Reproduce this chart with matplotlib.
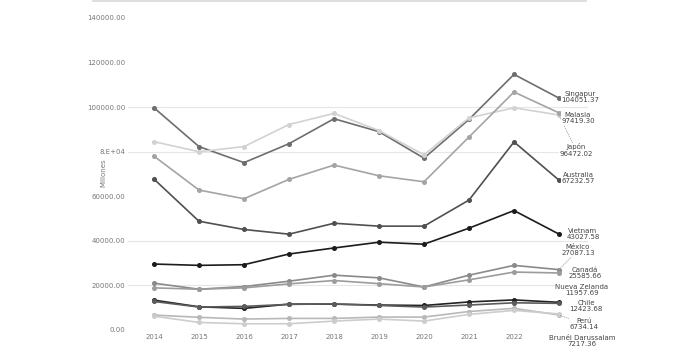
import matplotlib
matplotlib.use("Agg")
import matplotlib.pyplot as plt
from matplotlib.lines import Line2D

years = [2014, 2015, 2016, 2017, 2018, 2019, 2020, 2021, 2022, 2023]
xtick_labels = ["2014", "2015", "2016", "2017", "2018", "2019", "2020", "2021", "2022"]

singapur = [99700, 82300, 75100, 83600, 94800, 89000, 77100, 94500, 114700, 104051.37]
japon = [84500, 80000, 82300, 92200, 97200, 89500, 78600, 95200, 99700, 96472.02]
malasia = [78000, 62800, 58900, 67600, 74000, 69200, 66500, 86600, 106800, 97419.30]
australia = [67700, 48800, 45100, 43000, 47900, 46600, 46600, 58300, 84400, 67232.57]
vietnam = [29600, 29000, 29300, 34100, 36800, 39400, 38500, 45700, 53600, 43027.58]
mexico = [21000, 18300, 19500, 21900, 24600, 23400, 19300, 24600, 29000, 27087.13]
canada = [18900, 18300, 18900, 20700, 22200, 20800, 19300, 22500, 26000, 25585.66]
chile = [13400, 10400, 9700, 11600, 11600, 11200, 11000, 12600, 13500, 12423.68]
nueva_zelanda = [12800, 10300, 10600, 11500, 11700, 11000, 10300, 11200, 12200, 11957.69]
peru = [6700, 5700, 4900, 5200, 5200, 5800, 5800, 8300, 9700, 6734.14]
brunei = [6200, 3400, 2800, 2800, 4000, 4900, 4000, 7000, 8800, 7217.36]

yticks = [0, 20000, 40000, 60000, 80000, 100000, 120000, 140000]
ytick_labels = ["0.00", "20000.00", "40000.00", "60000.00", "8.E+04", "100000.00", "120000.00", "140000.00"]
grid_values = [0, 20000, 40000, 80000, 100000]

series = [
    ("Singapur", singapur, "#6e6e6e", (580, 97), False),
    ("Japón", japon, "#d2d2d2", (576, 150), True),
    ("Malasia", malasia, "#a4a4a4", (578, 118), False),
    ("Australia", australia, "#505050", (578, 178), False),
    ("Vietnam", vietnam, "#1c1c1c", (583, 234), False),
    ("México", mexico, "#8a8a8a", (578, 250), True),
    ("Canadá", canada, "#9c9c9c", (585, 273), False),
    ("Chile", chile, "#222222", (586, 306), False),
    ("Nueva Zelanda", nueva_zelanda, "#5c5c5c", (582, 290), False),
    ("Perú", peru, "#b8b8b8", (584, 324), True),
    ("Brunéi Darussalam", brunei, "#cdcdcd", (582, 341), False),
]

W, H = 679, 354
fig = plt.figure(figsize=(W / 100, H / 100), dpi=100)
ax_left, ax_right, ax_top, ax_bottom = 128, 588, 18, 330
ax = fig.add_axes([ax_left / W, 1 - ax_bottom / H, (ax_right - ax_left) / W, (ax_bottom - ax_top) / H])

x0 = 2014 - 26 / 45
x1 = 2014 + (ax_right - 154) / 45
ax.set_xlim(x0, x1)
ax.set_ylim(0, 140000)

for g in grid_values:
    ax.axhline(g, color="#e6e6e6", lw=0.8, zorder=0)

for name, vals, col, pos, leader in series:
    ax.plot(years, vals, color=col, lw=1.2, marker="o", markersize=2.6, zorder=3)

ax.set_xticks(years[:-1])
ax.set_xticklabels(xtick_labels)
ax.set_yticks(yticks)
ax.set_yticklabels(ytick_labels)
ax.tick_params(axis="both", length=0, labelsize=5, colors="#777777")
ax.tick_params(axis="y", pad=2)
ax.tick_params(axis="x", pad=3)
for s in ax.spines.values():
    s.set_visible(False)

fig.text(103 / W, 1 - 173 / H, "Millones", rotation=90, ha="center", va="center",
         fontsize=5, color="#777777")

for name, vals, col, pos, leader in series:
    label = f"{name}\n{vals[-1]:.2f}"
    fx, fy = pos[0] / W, 1 - pos[1] / H
    if leader:
        ax.annotate(label, xy=(years[-1], vals[-1]), xycoords="data",
                    xytext=(fx, fy), textcoords="figure fraction",
                    ha="center", va="center", fontsize=5, color="#444444",
                    linespacing=1.1, annotation_clip=False,
                    bbox=dict(boxstyle="square,pad=0.05", fc="white", ec="none"),
                    arrowprops=dict(arrowstyle="-", linestyle=":", color="#aaaaaa", lw=0.6,
                                    shrinkA=0, shrinkB=0), zorder=5)
    else:
        fig.text(fx, fy, label, ha="center", va="center", fontsize=5, color="#444444",
                 linespacing=1.1, zorder=5,
                 bbox=dict(boxstyle="square,pad=0.05", fc="white", ec="none"))

fig.add_artist(Line2D([93 / W, 586 / W], [1 - 0.8 / H, 1 - 0.8 / H], color="#d8d8d8", lw=1.2))

fig.savefig("out.png", dpi=100)
